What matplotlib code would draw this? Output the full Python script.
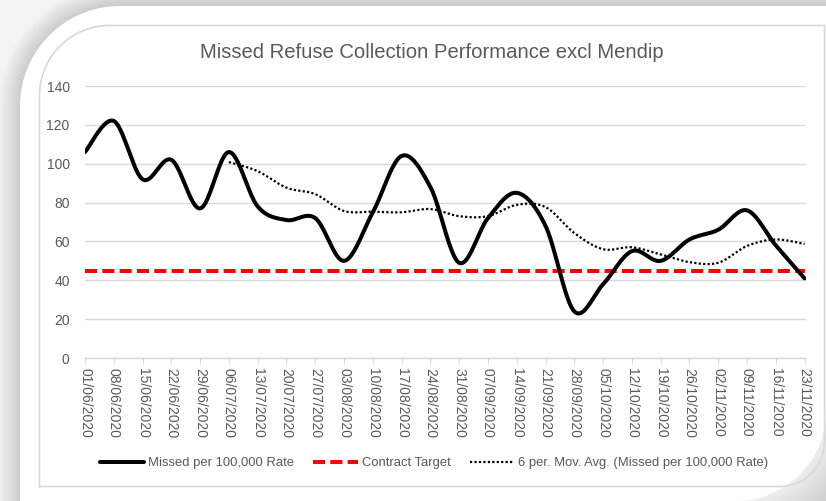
import matplotlib
matplotlib.use('Agg')
import matplotlib.pyplot as plt
import numpy as np
import pandas as pd

plt.rcParams['font.family'] = ['Liberation Sans', 'DejaVu Sans']

# weekly data
dates = ['01/06/2020', '08/06/2020', '15/06/2020', '22/06/2020', '29/06/2020',
         '06/07/2020', '13/07/2020', '20/07/2020', '27/07/2020', '03/08/2020',
         '10/08/2020', '17/08/2020', '24/08/2020', '31/08/2020', '07/09/2020',
         '14/09/2020', '21/09/2020', '28/09/2020', '05/10/2020', '12/10/2020',
         '19/10/2020', '26/10/2020', '02/11/2020', '09/11/2020', '16/11/2020',
         '23/11/2020']
missed_rate = [106, 122, 92, 102, 77, 106, 78, 71, 72, 50, 75, 104, 88,
               49, 72, 85, 68, 24, 38, 55, 50, 61, 66, 76, 58, 41]
contract_target = 45
ma_window = 6

W, H = 826, 501
grey_txt = '#595959'
grid_col = '#d9d9d9'


def excel_smooth(xs, ys, n=24):
    # bezier smoothing like Excel's "smoothed line"
    p = np.column_stack([xs, ys]).astype(float)
    ext = np.vstack([p[0], p, p[-1]])
    t = np.linspace(0, 1, n)[:, None]
    out = []
    for i in range(len(p) - 1):
        p0, p1, p2, p3 = ext[i], ext[i + 1], ext[i + 2], ext[i + 3]
        c1 = p1 + (p2 - p0) / 6
        c2 = p2 - (p3 - p1) / 6
        seg = (1 - t) ** 3 * p1 + 3 * (1 - t) ** 2 * t * c1 + 3 * (1 - t) * t ** 2 * c2 + t ** 3 * p2
        out.append(seg if i == 0 else seg[1:])
    s = np.vstack(out)
    return s[:, 0], s[:, 1]


fig = plt.figure(figsize=(W / 100, H / 100), dpi=100)

# ---- background / rounded panel (pixel coords) ----
bg = fig.add_axes([0, 0, 1, 1], zorder=-5)
yy, xx = np.mgrid[0:H, 0:W] + 0.5
d = np.maximum(20 - xx, 6 - yy)
tl = (xx < 120) & (yy < 106)
d[tl] = np.hypot(xx[tl] - 120, yy[tl] - 106) - 100
br = (xx > 736) & (yy > 411)
d[br] = np.hypot(xx[br] - 736, yy[br] - 411) - 90
shade = 0.80 + 0.16 * np.clip(d / 22, 0, 1)
shade[br] = 0.93 - 0.13 * np.clip(d[br] / 40, 0, 1)
inside = np.clip(0.5 - d, 0, 1)
img = shade * (1 - inside) + 1.0 * inside
bg.imshow(np.dstack([img] * 3), extent=(0, W, H, 0), interpolation='bilinear')
bg.set_xlim(0, W)
bg.set_ylim(H, 0)
bg.axis('off')

# inner chart border with rounded corners
r1, r2 = 70, 45
x0, x1, y0, y1 = 39.5, 824.5, 25.5, 486.5
a1 = np.linspace(np.pi, 1.5 * np.pi, 30)
a2 = np.linspace(0, 0.5 * np.pi, 30)
bx = np.concatenate([[x0], x0 + r1 + r1 * np.cos(a1), [x1, x1], x1 - r2 + r2 * np.cos(a2), [x0, x0]])
by = np.concatenate([[y1], y0 + r1 + r1 * np.sin(a1), [y0, y1 - r2], y1 - r2 + r2 * np.sin(a2), [y1, y1]])
bg.plot(bx, by, color='#d9d9d9', lw=1.2)

# ---- chart ----
ax = fig.add_axes([85 / W, 1 - 358 / H, (806 - 85) / W, (358 - 86) / H])
ax.set_facecolor('none')
xpos = np.arange(len(dates))

sx, sy = excel_smooth(xpos, missed_rate)
ax.plot(sx, sy, color='black', lw=2.9, solid_capstyle='round',
        label='Missed per 100,000 Rate', zorder=4)
ax.plot(xpos, [contract_target] * len(dates), color='#ff0000', lw=2.9,
        dashes=(3, 1.3), label='Contract Target', zorder=3)

ma = pd.Series(missed_rate).rolling(ma_window).mean()
valid = ~ma.isna()
mx, my = excel_smooth(xpos[valid], ma[valid].values)
ax.plot(mx, my, color='black', lw=1.6, dashes=(1.0, 1.0),
        label='6 per. Mov. Avg. (Missed per 100,000 Rate)', zorder=3)

ax.set_xlim(0, len(dates) - 1 + 0.05)
ax.set_ylim(0, 140)
ax.set_yticks(range(0, 141, 20))
ax.yaxis.grid(True, color=grid_col, lw=1)
ax.set_axisbelow(True)
for s in ['top', 'left', 'right']:
    ax.spines[s].set_visible(False)
ax.spines['bottom'].set_color(grid_col)
ax.spines['bottom'].set_linewidth(1)
ax.set_xticks(xpos)
ax.set_xticklabels(dates, rotation=-90, fontsize=10, color=grey_txt)
ax.tick_params(axis='x', length=4, color=grid_col, pad=3)
ax.tick_params(axis='y', length=0, pad=11, labelsize=10, labelcolor=grey_txt)

fig.text(432 / W, 1 - 53 / H, 'Missed Refuse Collection Performance excl Mendip',
         ha='center', va='center', fontsize=14.6, color=grey_txt)

leg = fig.legend(*ax.get_legend_handles_labels(), loc='center', ncol=3,
                 bbox_to_anchor=(434 / W, 1 - 463 / H), frameon=False,
                 fontsize=9.4, handlelength=3.4, handletextpad=0.3,
                 columnspacing=1.5, labelcolor=grey_txt)

fig.savefig('out.png', dpi=100)
